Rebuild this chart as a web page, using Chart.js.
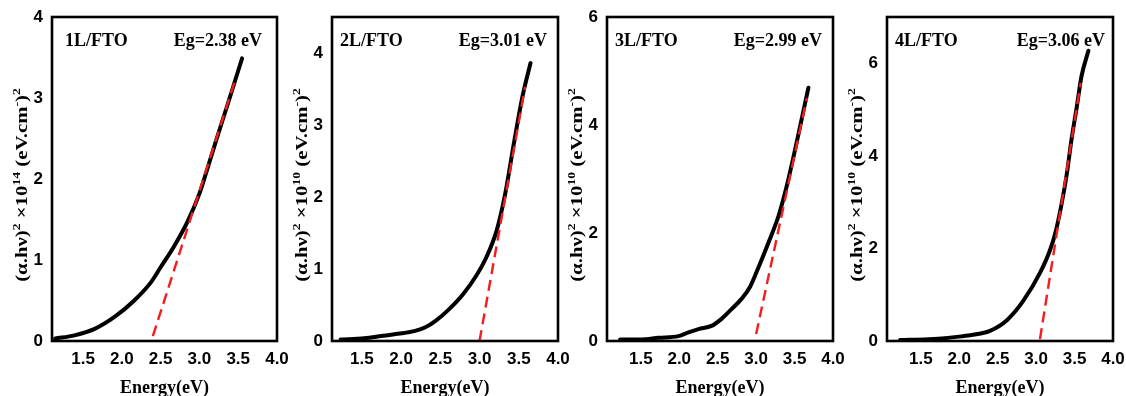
<!DOCTYPE html>
<html>
<head>
<meta charset="utf-8">
<script src="https://cdn.jsdelivr.net/npm/chart.js@4.4.1/dist/chart.umd.min.js"></script>
<style>
  html, body { margin: 0; padding: 0; background: #fff; }
  #wrap { position: relative; width: 1126px; height: 396px; overflow: hidden; }
  canvas { position: absolute; top: 0; }
</style>
</head>
<body>
<div id="wrap">
  <canvas id="c1" width="300" height="396" style="left:0px"></canvas>
  <canvas id="c2" width="295" height="396" style="left:285px"></canvas>
  <canvas id="c3" width="290" height="396" style="left:565px"></canvas>
  <canvas id="c4" width="281" height="396" style="left:845px"></canvas>
</div>
<script>
// ---------------- data ----------------
const xTicks = [1.5, 2.0, 2.5, 3.0, 3.5, 4.0];

const sampleNames = ["1L/FTO", "2L/FTO", "3L/FTO", "4L/FTO"];
const bandGaps = ["Eg=2.38 eV", "Eg=3.01 eV", "Eg=2.99 eV", "Eg=3.06 eV"];
const yExponents = ["14", "10", "10", "10"];

const p1Energy = [1.14, 1.39, 1.65, 1.91, 2.16, 2.38, 2.50, 2.68, 2.85, 3.00, 3.10, 3.22, 3.36, 3.55];
const p1Absorb = [0.03, 0.07, 0.15, 0.30, 0.50, 0.73, 0.91, 1.18, 1.48, 1.82, 2.12, 2.49, 2.91, 3.49];
const p1FitEnergy = [2.40, 3.47];
const p1FitAbsorb = [0.06, 3.25];
const p1YTicks = [0, 1, 2, 3, 4];

const p2Energy = [1.23, 1.53, 1.75, 1.96, 2.18, 2.31, 2.44, 2.61, 2.79, 2.96, 3.09, 3.22, 3.33, 3.44, 3.55, 3.65];
const p2Absorb = [0.02, 0.04, 0.07, 0.10, 0.14, 0.19, 0.28, 0.44, 0.65, 0.91, 1.17, 1.54, 2.06, 2.76, 3.41, 3.86];
const p2FitEnergy = [3.00, 3.58];
const p2FitAbsorb = [0.00, 3.53];
const p2YTicks = [0, 1, 2, 3, 4];

const p3Energy = [1.23, 1.51, 1.73, 1.99, 2.12, 2.25, 2.42, 2.55, 2.68, 2.81, 2.92, 3.03, 3.16, 3.29, 3.40, 3.52, 3.68];
const p3Absorb = [0.03, 0.03, 0.06, 0.09, 0.16, 0.22, 0.28, 0.41, 0.59, 0.78, 1.00, 1.36, 1.82, 2.31, 2.88, 3.63, 4.69];
const p3FitEnergy = [3.00, 3.66];
const p3FitAbsorb = [0.13, 4.50];
const p3YTicks = [0, 2, 4, 6];

const p4Energy = [1.23, 1.60, 1.81, 2.03, 2.20, 2.40, 2.62, 2.83, 3.05, 3.18, 3.26, 3.33, 3.40, 3.46, 3.53, 3.59, 3.68];
const p4Absorb = [0.02, 0.04, 0.06, 0.10, 0.14, 0.22, 0.45, 0.86, 1.47, 1.96, 2.40, 2.95, 3.62, 4.35, 5.07, 5.72, 6.27];
const p4FitEnergy = [3.05, 3.58];
const p4FitAbsorb = [0.04, 5.58];
const p4YTicks = [0, 2, 4, 6];

const yMaxes = [4, 4.5, 6, 7.0];
const xMins = [1.1, 1.12, 1.06, 1.06];

// ---------------- layout (not data) ----------------
const panels = [
  { id: 'c1', E: p1Energy, A: p1Absorb, fE: p1FitEnergy, fA: p1FitAbsorb, yT: p1YTicks, left: 52, right: 23, lblL: 13, lblR: 15 },
  { id: 'c2', E: p2Energy, A: p2Absorb, fE: p2FitEnergy, fA: p2FitAbsorb, yT: p2YTicks, left: 47, right: 22, lblL: 8,  lblR: 11 },
  { id: 'c3', E: p3Energy, A: p3Absorb, fE: p3FitEnergy, fA: p3FitAbsorb, yT: p3YTicks, left: 42, right: 22, lblL: 8,  lblR: 11 },
  { id: 'c4', E: p4Energy, A: p4Absorb, fE: p4FitEnergy, fA: p4FitAbsorb, yT: p4YTicks, left: 42, right: 13, lblL: 8,  lblR: 8 }
];

const SERIF = '"Liberation Serif", "Times New Roman", serif';
const SANS = '"Liberation Sans", Arial, sans-serif';

function decorPlugin(idx, cfg) {
  return {
    id: 'decor' + idx,
    afterDraw(chart) {
      const ctx = chart.ctx;
      const a = chart.chartArea;
      ctx.save();
      // frame
      ctx.strokeStyle = '#000';
      ctx.lineWidth = 2.6;
      ctx.strokeRect(a.left, a.top, a.right - a.left, a.bottom - a.top);
      // annotations
      ctx.fillStyle = '#000';
      ctx.font = 'bold 18px ' + SERIF;
      ctx.textBaseline = 'alphabetic';
      ctx.textAlign = 'left';
      ctx.fillText(sampleNames[idx], a.left + cfg.lblL, 46);
      ctx.textAlign = 'right';
      ctx.fillText(bandGaps[idx], a.right - cfg.lblR, 46);
      // x title
      ctx.textAlign = 'center';
      ctx.font = 'bold 18px ' + SERIF;
      ctx.fillText('Energy(eV)', (a.left + a.right) / 2, 393);
      // y title with superscripts (stretched along text direction like the original)
      const segs = [
        { t: '(\u03b1.h\u03bd)', s: false },
        { t: '2', s: true },
        { t: ' \u00d710', s: false },
        { t: yExponents[idx], s: true },
        { t: ' (eV.cm', s: false },
        { t: '-', s: true },
        { t: ')', s: false },
        { t: '2', s: true }
      ];
      const mainF = 'bold 16px ' + SERIF;
      const supF = 'bold 10.5px ' + SERIF;
      let total = 0;
      segs.forEach(sg => { ctx.font = sg.s ? supF : mainF; sg.w = ctx.measureText(sg.t).width; total += sg.w; });
      const stretch = 1.3;
      ctx.translate(a.left - 25, 185);
      ctx.rotate(-Math.PI / 2);
      ctx.scale(stretch, 1);
      ctx.textAlign = 'left';
      let x = -total / 2;
      segs.forEach(sg => {
        ctx.font = sg.s ? supF : mainF;
        ctx.fillText(sg.t, x, sg.s ? -7 : 0);
        x += sg.w;
      });
      ctx.restore();
    }
  };
}

panels.forEach((p, idx) => {
  const curve = p.E.map((e, i) => ({ x: e, y: p.A[i] }));
  const fit = p.fE.map((e, i) => ({ x: e, y: p.fA[i] }));
  new Chart(document.getElementById(p.id), {
    type: 'line',
    data: {
      datasets: [
        { data: fit, borderColor: '#f41c1c', borderWidth: 2.4, borderDash: [11, 6], pointRadius: 0, fill: false, tension: 0 },
        { data: curve, borderColor: '#000', borderWidth: 4, pointRadius: 0, fill: false, cubicInterpolationMode: 'monotone', borderCapStyle: 'round' }
      ]
    },
    options: {
      responsive: false,
      animation: false,
      events: [],
      layout: { padding: { top: 17, left: 0, right: p.right, bottom: 0 } },
      plugins: { legend: { display: false }, tooltip: { enabled: false } },
      scales: {
        x: {
          type: 'linear', min: xMins[idx], max: 4.0,
          grid: { display: false, drawTicks: false },
          border: { display: false },
          ticks: {
            color: '#000', padding: 8,
            font: { family: SANS, size: 17, weight: 'bold' },
            callback: v => Number(v).toFixed(1),
            maxRotation: 0, autoSkip: false
          },
          afterBuildTicks: s => { s.ticks = xTicks.map(v => ({ value: v })); },
          afterFit: s => { s.height = 55; s.paddingLeft = 0; s.paddingRight = 0; }
        },
        y: {
          type: 'linear', min: 0, max: yMaxes[idx],
          grid: { display: false, drawTicks: false },
          border: { display: false },
          ticks: {
            color: '#000', padding: 9,
            font: { family: SANS, size: 17, weight: 'bold' },
            callback: v => String(v), autoSkip: false
          },
          afterBuildTicks: s => { s.ticks = p.yT.map(v => ({ value: v })); },
          afterFit: s => { s.width = p.left; s.paddingTop = 0; s.paddingBottom = 0; }
        }
      }
    },
    plugins: [decorPlugin(idx, p)]
  });
});
</script>
</body>
</html>
